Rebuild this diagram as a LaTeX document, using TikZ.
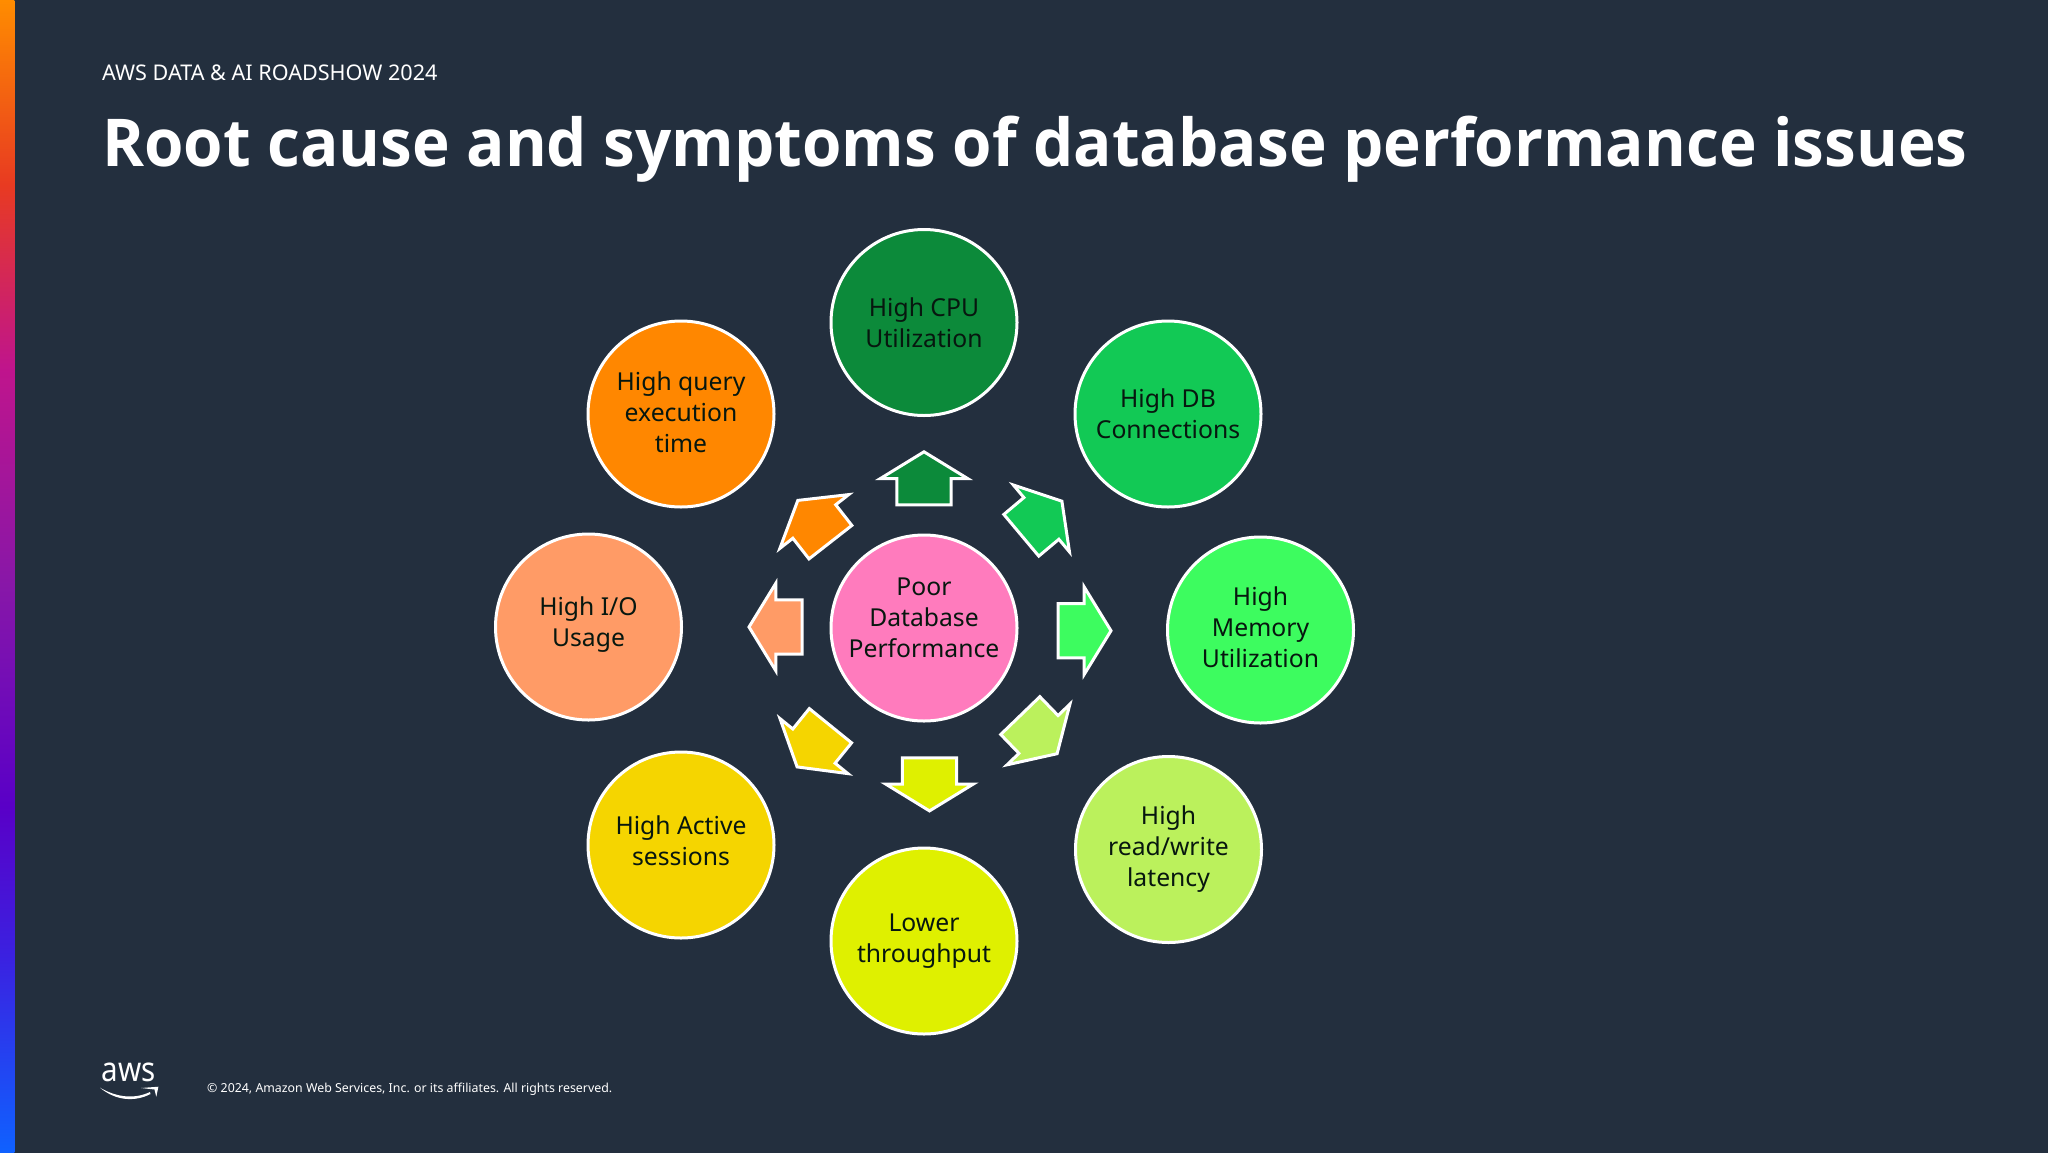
\documentclass[tikz,border=0pt]{standalone}
\usepackage{fontspec}
\setmainfont{Noto Sans}
\newfontfamily\titlefont{Open Sans}
\usetikzlibrary{shapes.arrows}
\definecolor{slidebg}{HTML}{232F3E}
\definecolor{inktext}{HTML}{07170F}
\definecolor{cCpu}{HTML}{0C8A3A}
\definecolor{cConn}{HTML}{12C955}
\definecolor{cMem}{HTML}{3DFC5F}
\definecolor{cLat}{HTML}{BBF15C}
\definecolor{cThru}{HTML}{DFF000}
\definecolor{cSess}{HTML}{F5D500}
\definecolor{cIo}{HTML}{FF9B66}
\definecolor{cQuery}{HTML}{FF8700}
\definecolor{cPoor}{HTML}{FF7BBD}
\pgfdeclareverticalshading{barshade}{100bp}{
  rgb(0bp)=(0.06,0.38,1.00);
  rgb(25bp)=(0.06,0.38,1.00);
  rgb(33.5bp)=(0.23,0.13,0.88);
  rgb(40bp)=(0.35,0.00,0.78);
  rgb(49.5bp)=(0.53,0.09,0.66);
  rgb(59bp)=(0.75,0.08,0.55);
  rgb(67bp)=(0.91,0.23,0.13);
  rgb(75bp)=(1.00,0.55,0.00);
  rgb(100bp)=(1.00,0.55,0.00)}
\begin{document}
\begin{tikzpicture}[x=1pt,y=-1pt,
  bubble/.style={circle,draw=white,line width=3pt,minimum size=186pt,inner sep=0pt,
    align=center,text=inktext,font=\fontsize{24.7}{31}\selectfont},
  blockarrow/.style={single arrow,draw=white,line width=3pt,anchor=tip,outer sep=0pt,
    inner xsep=0pt,inner ysep=25.7pt,minimum height=53pt,
    single arrow head extend=16.5pt,single arrow tip angle=117,single arrow head indent=0pt}]
\useasboundingbox (0,0) rectangle (2048,1152);
\fill[slidebg] (-3,-3) rectangle (2051,1155);
\shade[shading=barshade] (-3,0) rectangle (14.4,1152);
\node[anchor=west,text=white,inner sep=0pt,font=\fontsize{21.6}{25}\selectfont] (event) at (102,72.5) {AWS DATA \& AI ROADSHOW 2024};
\node[anchor=base west,inner sep=0pt,text=white,font=\fontsize{66}{80}\selectfont\titlefont\bfseries] (title) at (102,166.5) {\scalebox{.966}[1]{Root cause and symptoms of database performance issues}};
\node[bubble,fill=cCpu] (cpu) at (924,322.5) {High CPU\\Utilization};
\node[bubble,fill=cConn] (conn) at (1168,414) {High DB\\Connections};
\node[bubble,fill=cMem,text depth=5pt] (mem) at (1260.5,630) {High\\Memory\\Utilization};
\node[bubble,fill=cLat] (lat) at (1168.5,849.5) {High\\read/write\\latency};
\node[bubble,fill=cThru] (thru) at (924,941) {Lower\\throughput};
\node[bubble,fill=cSess,text depth=8pt] (sess) at (681,845) {High Active\\sessions};
\node[bubble,fill=cIo,text depth=10pt] (io) at (588.5,627) {High I/O\\Usage};
\node[bubble,fill=cQuery,text depth=3pt] (query) at (681,414) {High query\\execution\\time};
\node[bubble,fill=cPoor,text depth=21pt,inner sep=-4pt] (poor) at (924,628) {Poor\\Database\\Performance};
\node[blockarrow,fill=cCpu,rotate=90] (acpu) at (924,451.8) {};
\node[blockarrow,fill=cConn,rotate=40] (aconn) at (1061.9,501.2) {};
\node[blockarrow,fill=cMem] (amem) at (1111,630.7) {};
\node[blockarrow,fill=cLat,rotate=-46] (alat) at (1057.1,753.7) {};
\node[blockarrow,fill=cThru,rotate=-90] (athru) at (929.5,810.9) {};
\node[blockarrow,fill=cSess,rotate=-129] (asess) at (797.1,766.9) {};
\node[blockarrow,fill=cIo,rotate=180] (aio) at (749,627) {};
\node[blockarrow,fill=cQuery,rotate=128] (aquery) at (797.8,500.4) {};
\node[anchor=base,inner sep=0pt,text=white,font=\fontsize{34}{34}\selectfont] (logo) at (129,1081.7) {\scalebox{.87}[1]{aws}};
\fill[white] (100,1087.7) .. controls (118,1098) and (135,1099) .. (150,1092) -- (150.5,1094) .. controls (135,1102) and (116,1101) .. cycle;
\fill[white] (141,1088) -- (158.4,1086.7) -- (156.3,1096.7) -- (154.5,1089.5) -- cycle;
\node[anchor=west,inner sep=0pt,text=white,font=\fontsize{12.36}{15}\selectfont] (legal) at (207,1089.5) {© 2024, Amazon Web Services, Inc. or its affiliates. All rights reserved.};
\end{tikzpicture}
\end{document}
